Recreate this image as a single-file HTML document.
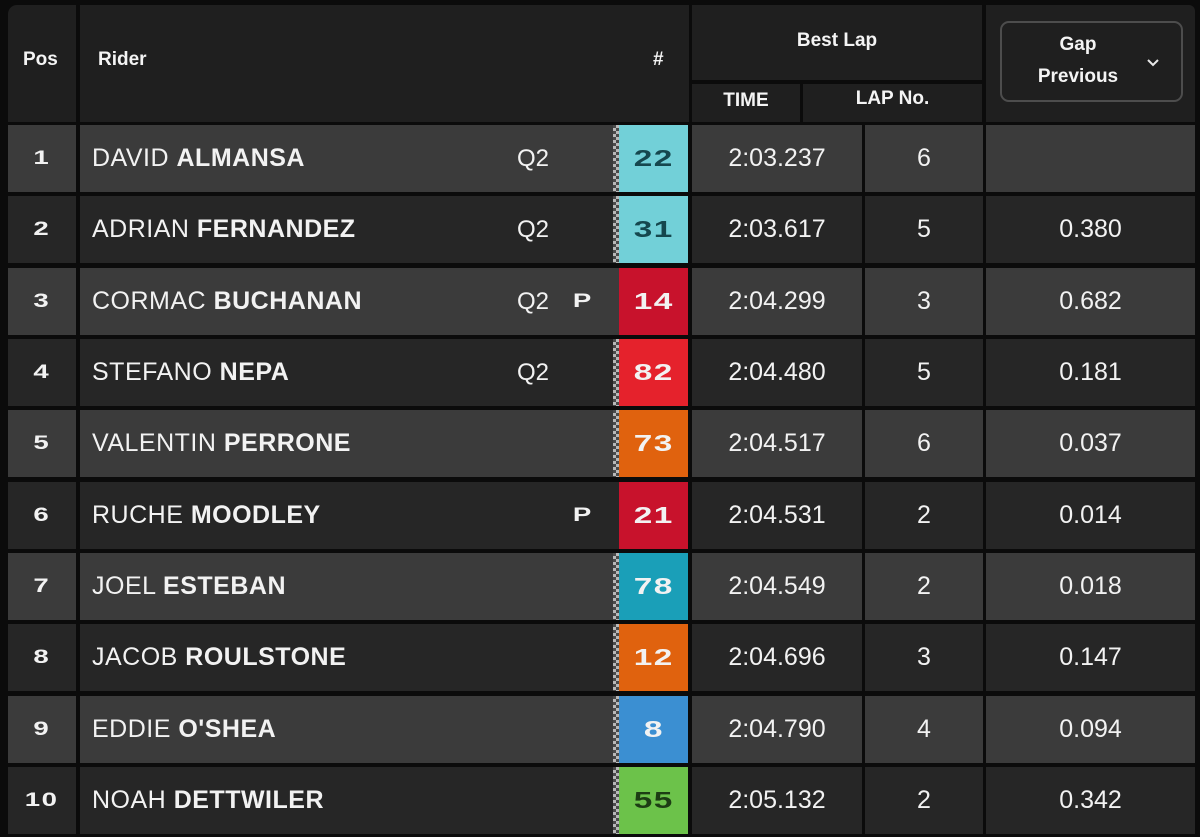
<!DOCTYPE html>
<html><head><meta charset="utf-8">
<style>
*{margin:0;padding:0;box-sizing:border-box}
html,body{width:1200px;height:837px;background:#0b0b0b;overflow:hidden}
body{position:relative;font-family:"Liberation Sans",sans-serif;color:#f2f2f2}
.c{position:absolute}
.hd{background:#1f1f1f}
.ht{position:absolute;font-weight:bold;font-size:19px;color:#f4f4f4;white-space:nowrap}
.row{position:absolute;left:0;width:1200px;height:67px}
.row .c{top:0;height:67px}
.odd .bg{background:#3b3b3b}
.even .bg{background:#262626}
.pos{left:8px;width:68px}
.rid{left:80px;width:539px}
.tim{left:692px;width:170px}
.lap{left:865px;width:118px}
.gap{left:986px;width:209px}
.strip{left:613px;width:6px;background:repeating-conic-gradient(#b8b8b8 0 25%,#4a4a4a 0 50%) 0 0/6px 6px}
.box{left:619px;width:69px}
.t{position:absolute;top:0;height:67px;line-height:67px;white-space:nowrap;font-size:24px}
.dig{display:inline-block;font-weight:bold;transform:scaleX(1.45);letter-spacing:1px}
.pn{left:8px;width:68px;text-align:center;font-size:19px}
.nm{left:92px;font-size:25px;letter-spacing:0.5px}
.nm b{font-weight:bold}
.q{left:517px;font-size:24px}
.p{left:576px;font-size:19px}
.num{left:619px;width:69px;text-align:center;font-size:23px}
.tv{left:692px;width:170px;text-align:center;font-size:25px}
.lv{left:865px;width:118px;text-align:center;font-size:25px}
.gv{left:986px;width:209px;text-align:center;font-size:25px}
</style></head><body>
<!-- header -->
<div class="c hd" style="left:8px;top:5px;width:68px;height:117px;border-top-left-radius:9px"></div>
<div class="c hd" style="left:80px;top:5px;width:609px;height:117px"></div>
<div class="c hd" style="left:692px;top:5px;width:290px;height:75px"></div>
<div class="c hd" style="left:692px;top:84px;width:108px;height:38px"></div>
<div class="c hd" style="left:803px;top:84px;width:179px;height:38px"></div>
<div class="c hd" style="left:986px;top:5px;width:209px;height:117px;border-top-right-radius:6px"></div>
<div class="ht" style="left:23px;top:49px">Pos</div>
<div class="ht" style="left:98px;top:49px">Rider</div>
<div class="ht" style="left:653px;top:49px">#</div>
<div class="ht" style="left:692px;width:290px;text-align:center;top:30px">Best Lap</div>
<div class="ht" style="left:692px;width:108px;text-align:center;top:90px">TIME</div>
<div class="ht" style="left:803px;width:179px;text-align:center;top:88px">LAP No.</div>
<div class="c" style="left:1000px;top:21px;width:183px;height:81px;border:2px solid #4d4d4d;border-radius:9px"></div>
<div class="ht" style="left:1008px;width:140px;text-align:center;top:34px">Gap</div>
<div class="ht" style="left:1008px;width:140px;text-align:center;top:66px">Previous</div>
<svg class="c" style="left:1146px;top:58px" width="14" height="10" viewBox="0 0 14 10"><polyline points="2,2 7,7 12,2" fill="none" stroke="#e8e8e8" stroke-width="2"/></svg>

<!-- rows -->
<div class="row odd" style="top:125px">
<div class="c bg pos"></div><div class="c bg rid"></div><div class="c strip"></div><div class="c box" style="background:#72d0d8"></div><div class="c bg tim"></div><div class="c bg lap"></div><div class="c bg gap"></div>
<div class="t pn"><span class="dig">1</span></div><div class="t nm">DAVID <b>ALMANSA</b></div><div class="t q">Q2</div>
<div class="t num" style="color:#15474e"><span class="dig">22</span></div><div class="t tv">2:03.237</div><div class="t lv">6</div><div class="t gv"></div>
</div>
<div class="row even" style="top:196.3px">
<div class="c bg pos"></div><div class="c bg rid"></div><div class="c strip"></div><div class="c box" style="background:#72d0d8"></div><div class="c bg tim"></div><div class="c bg lap"></div><div class="c bg gap"></div>
<div class="t pn"><span class="dig">2</span></div><div class="t nm">ADRIAN <b>FERNANDEZ</b></div><div class="t q">Q2</div>
<div class="t num" style="color:#15474e"><span class="dig">31</span></div><div class="t tv">2:03.617</div><div class="t lv">5</div><div class="t gv">0.380</div>
</div>
<div class="row odd" style="top:267.7px">
<div class="c bg pos"></div><div class="c bg rid"></div><div class="c box" style="background:#c8122c"></div><div class="c bg tim"></div><div class="c bg lap"></div><div class="c bg gap"></div>
<div class="t pn"><span class="dig">3</span></div><div class="t nm">CORMAC <b>BUCHANAN</b></div><div class="t q">Q2</div><div class="t p"><span class="dig">P</span></div>
<div class="t num"><span class="dig">14</span></div><div class="t tv">2:04.299</div><div class="t lv">3</div><div class="t gv">0.682</div>
</div>
<div class="row even" style="top:339px">
<div class="c bg pos"></div><div class="c bg rid"></div><div class="c strip"></div><div class="c box" style="background:#e5222c"></div><div class="c bg tim"></div><div class="c bg lap"></div><div class="c bg gap"></div>
<div class="t pn"><span class="dig">4</span></div><div class="t nm">STEFANO <b>NEPA</b></div><div class="t q">Q2</div>
<div class="t num"><span class="dig">82</span></div><div class="t tv">2:04.480</div><div class="t lv">5</div><div class="t gv">0.181</div>
</div>
<div class="row odd" style="top:410.3px">
<div class="c bg pos"></div><div class="c bg rid"></div><div class="c strip"></div><div class="c box" style="background:#e0620e"></div><div class="c bg tim"></div><div class="c bg lap"></div><div class="c bg gap"></div>
<div class="t pn"><span class="dig">5</span></div><div class="t nm">VALENTIN <b>PERRONE</b></div>
<div class="t num"><span class="dig">73</span></div><div class="t tv">2:04.517</div><div class="t lv">6</div><div class="t gv">0.037</div>
</div>
<div class="row even" style="top:481.7px">
<div class="c bg pos"></div><div class="c bg rid"></div><div class="c box" style="background:#c8122c"></div><div class="c bg tim"></div><div class="c bg lap"></div><div class="c bg gap"></div>
<div class="t pn"><span class="dig">6</span></div><div class="t nm">RUCHE <b>MOODLEY</b></div><div class="t p"><span class="dig">P</span></div>
<div class="t num"><span class="dig">21</span></div><div class="t tv">2:04.531</div><div class="t lv">2</div><div class="t gv">0.014</div>
</div>
<div class="row odd" style="top:553px">
<div class="c bg pos"></div><div class="c bg rid"></div><div class="c strip"></div><div class="c box" style="background:#1a9fb8"></div><div class="c bg tim"></div><div class="c bg lap"></div><div class="c bg gap"></div>
<div class="t pn"><span class="dig">7</span></div><div class="t nm">JOEL <b>ESTEBAN</b></div>
<div class="t num"><span class="dig">78</span></div><div class="t tv">2:04.549</div><div class="t lv">2</div><div class="t gv">0.018</div>
</div>
<div class="row even" style="top:624.3px">
<div class="c bg pos"></div><div class="c bg rid"></div><div class="c strip"></div><div class="c box" style="background:#e0620e"></div><div class="c bg tim"></div><div class="c bg lap"></div><div class="c bg gap"></div>
<div class="t pn"><span class="dig">8</span></div><div class="t nm">JACOB <b>ROULSTONE</b></div>
<div class="t num"><span class="dig">12</span></div><div class="t tv">2:04.696</div><div class="t lv">3</div><div class="t gv">0.147</div>
</div>
<div class="row odd" style="top:695.7px">
<div class="c bg pos"></div><div class="c bg rid"></div><div class="c strip"></div><div class="c box" style="background:#3b8fd2"></div><div class="c bg tim"></div><div class="c bg lap"></div><div class="c bg gap"></div>
<div class="t pn"><span class="dig">9</span></div><div class="t nm">EDDIE <b>O'SHEA</b></div>
<div class="t num"><span class="dig">8</span></div><div class="t tv">2:04.790</div><div class="t lv">4</div><div class="t gv">0.094</div>
</div>
<div class="row even" style="top:767px">
<div class="c bg pos"></div><div class="c bg rid"></div><div class="c strip"></div><div class="c box" style="background:#6cc24a"></div><div class="c bg tim"></div><div class="c bg lap"></div><div class="c bg gap"></div>
<div class="t pn"><span class="dig">10</span></div><div class="t nm">NOAH <b>DETTWILER</b></div>
<div class="t num" style="color:#1d3d14"><span class="dig">55</span></div><div class="t tv">2:05.132</div><div class="t lv">2</div><div class="t gv">0.342</div>
</div>
</body></html>
